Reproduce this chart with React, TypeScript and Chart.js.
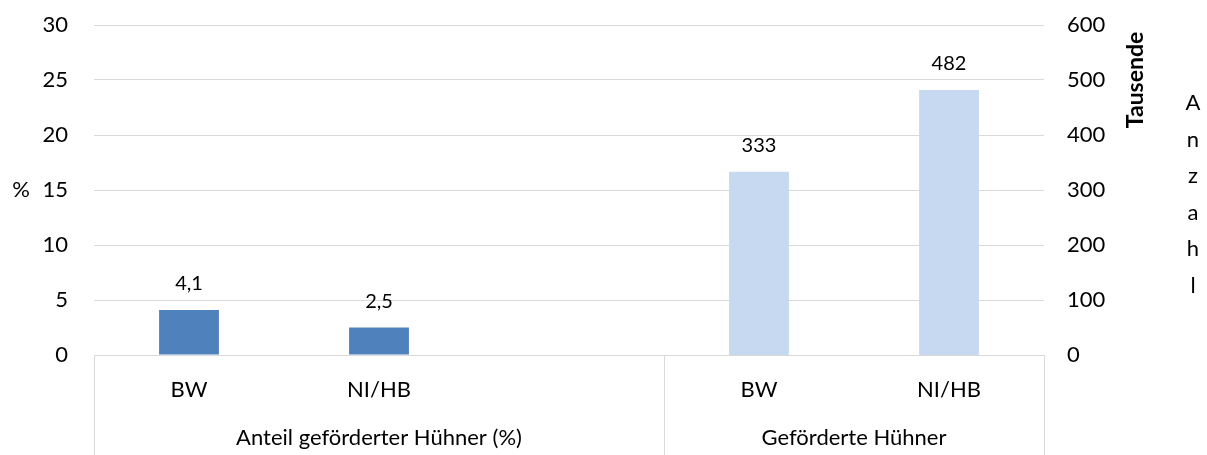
import React, { useEffect, useRef } from "react";
import { Chart, registerables } from "chart.js";

Chart.register(...registerables);

const categories = ["BW", "NI/HB", "", "BW", "NI/HB"];
const groups = ["Anteil geförderter Hühner (%)", "Geförderte Hühner"];
const groupSpans = [3, 2];
const shareValues = [4.1, 2.5, null, null, null];
const countValues = [null, null, null, 333, 482];
const shareLabels = ["4,1", "2,5", "", "", ""];
const countLabels = ["", "", "", "333", "482"];
const leftAxisTitle = "%";
const rightAxisTitle = "Tausende";
const rightAxisTitle2 = "Anzahl";

const FONT = "Lato, 'Open Sans', sans-serif";
const GRID = "#d9d9d9";
const TEXT = "#000000";
const FS = 22;

const overlay = {
  id: "overlay",
  afterDatasetsDraw(chart: any) {
    const ctx = chart.ctx;
    const x = chart.scales.x;
    const ca = chart.chartArea;
    ctx.save();
    // data labels
    ctx.font = `20px ${FONT}`;
    ctx.fillStyle = TEXT;
    ctx.textAlign = "center";
    ctx.textBaseline = "middle";
    const lbls = [shareLabels, countLabels];
    chart.data.datasets.forEach((ds: any, di: number) => {
      const meta = chart.getDatasetMeta(di);
      meta.data.forEach((bar: any, i: number) => {
        const t = lbls[di][i];
        if (!t || ds.data[i] == null) return;
        ctx.fillText(t, bar.x, bar.y - 26);
      });
    });
    // separators in category axis
    const step = (x.right - x.left) / categories.length;
    ctx.strokeStyle = GRID;
    ctx.lineWidth = 1;
    let idx = 0;
    const bounds: number[] = [x.left];
    groupSpans.forEach((s) => {
      idx += s;
      bounds.push(x.left + step * idx);
    });
    bounds.forEach((bx) => {
      const px = Math.round(bx) + 0.5;
      ctx.beginPath();
      ctx.moveTo(px, ca.bottom);
      ctx.lineTo(px, chart.height);
      ctx.stroke();
    });
    // group labels
    ctx.font = `${FS}px ${FONT}`;
    ctx.fillStyle = TEXT;
    groups.forEach((g, gi) => {
      const cx = (bounds[gi] + bounds[gi + 1]) / 2;
      ctx.fillText(g, cx, ca.bottom + 83);
    });
    // left axis title
    ctx.fillText(leftAxisTitle, 21, (ca.top + ca.bottom) / 2);
    // right axis title rotated
    ctx.save();
    ctx.translate(1136, ca.top + 55);
    ctx.rotate(-Math.PI / 2);
    ctx.font = `bold 23px ${FONT}`;
    ctx.fillText(rightAxisTitle, 0, 0);
    ctx.restore();
    // stacked letters
    ctx.font = `${FS}px ${FONT}`;
    rightAxisTitle2.split("").forEach((ch, i) => {
      ctx.fillText(ch, 1193, 103 + i * 36.6);
    });
    ctx.restore();
  },
};

const zeroPad = (s: any) => {
  s.paddingTop = 0;
  s.paddingBottom = 0;
  s.paddingLeft = 0;
  s.paddingRight = 0;
};

export default function App() {
  const ref = useRef<HTMLCanvasElement>(null);
  useEffect(() => {
    if (!ref.current) return;
    const chart = new Chart(ref.current, {
      type: "bar",
      data: {
        labels: categories,
        datasets: [
          {
            data: shareValues as any,
            backgroundColor: "#4F81BD",
            yAxisID: "y",
            grouped: false,
            barPercentage: 0.315,
            categoryPercentage: 1,
          } as any,
          {
            data: countValues as any,
            backgroundColor: "#C6D9F1",
            yAxisID: "y1",
            grouped: false,
            barPercentage: 0.315,
            categoryPercentage: 1,
          } as any,
        ],
      },
      options: {
        animation: false,
        responsive: true,
        maintainAspectRatio: false,
        layout: { padding: { top: 25, left: 0, right: 0, bottom: 0 } },
        plugins: {
          legend: { display: false },
          tooltip: { enabled: false },
        },
        scales: {
          x: {
            grid: { display: true, drawOnChartArea: false, drawTicks: false, color: "transparent" },
            border: { display: true, color: GRID, width: 1 },
            ticks: { color: TEXT, font: { family: FONT, size: FS }, padding: 22, maxRotation: 0 },
            afterFit: (s: any) => {
              s.height = 100;
              zeroPad(s);
            },
          },
          y: {
            position: "left",
            min: 0,
            max: 30,
            ticks: { stepSize: 5, color: TEXT, font: { family: FONT, size: FS }, padding: 26 },
            grid: { color: GRID, lineWidth: 1, drawTicks: false },
            border: { display: false },
            afterFit: (s: any) => {
              s.width = 94;
              zeroPad(s);
            },
          },
          y1: {
            position: "right",
            min: 0,
            max: 600,
            ticks: { stepSize: 100, color: TEXT, font: { family: FONT, size: FS }, padding: 23 },
            grid: { display: false, drawOnChartArea: false, drawTicks: false },
            border: { display: false },
            afterFit: (s: any) => {
              s.width = 163;
              zeroPad(s);
            },
          },
        },
      },
      plugins: [overlay],
    });
    return () => chart.destroy();
  }, []);
  return (
    <div style={{ position: "fixed", left: 0, top: 0, width: 1207, height: 455, background: "#fff" }}>
      <canvas ref={ref} />
    </div>
  );
}
